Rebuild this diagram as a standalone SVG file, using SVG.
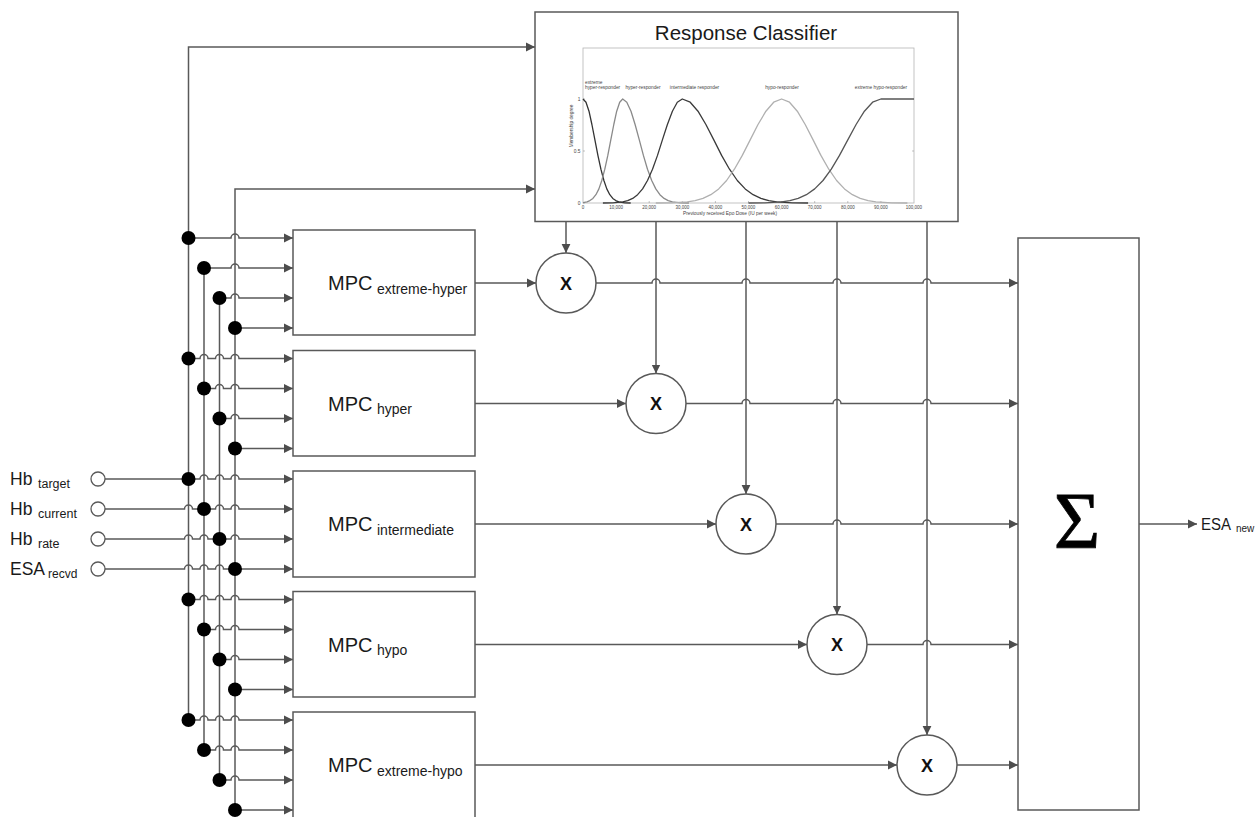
<svg xmlns="http://www.w3.org/2000/svg" width="1259" height="817" viewBox="0 0 1259 817">
<style>
.ln{fill:none;stroke:#595959;stroke-width:1.5}
.la{fill:none;stroke:#595959;stroke-width:1.5;marker-end:url(#arr)}
.box{fill:#fff;stroke:#595959;stroke-width:1.5}
.dot{fill:#000}
.inp{fill:#fff;stroke:#595959;stroke-width:1.3}
.t{font-family:"Liberation Sans",Arial,sans-serif;fill:#1a1a1a}
.mpc{font-size:20px}
.sub{font-size:14px}
.x{font-family:"Liberation Sans",Arial,sans-serif;font-weight:bold;font-size:18px;fill:#111;text-anchor:middle}
.ct{font-family:"Liberation Sans",Arial,sans-serif;fill:#444;font-size:4.8px}
.tk{font-family:"Liberation Sans",Arial,sans-serif;fill:#444;font-size:4.5px;text-anchor:middle}
.cv{fill:none;stroke-width:1.3;stroke-linejoin:round}
</style>
<defs>
<marker id="arr" markerWidth="10" markerHeight="10" refX="9" refY="5" orient="auto" markerUnits="userSpaceOnUse"><path d="M0,0.6 L9,5 L0,9.4 z" fill="#4d4d4d"/></marker>
</defs>
<rect width="1259" height="817" fill="#fff"/>

<g id="connectors">
<path class="la" d="M188.5 720 V47 H535"/>
<path class="la" d="M235 810 V189 H535"/>
<path class="ln" d="M204 268 V750"/>
<path class="ln" d="M219.5 298 V780"/>
<path class="la" d="M188.5 238 H231 a4 4 0 0 1 8 0 H293"/>
<path class="la" d="M204 268 H231 a4 4 0 0 1 8 0 H293"/>
<path class="la" d="M219.5 298 H231 a4 4 0 0 1 8 0 H293"/>
<path class="la" d="M235 328 H293"/>
<path class="la" d="M188.5 358.5 H200 a4 4 0 0 1 8 0 H215.5 a4 4 0 0 1 8 0 H231 a4 4 0 0 1 8 0 H293"/>
<path class="la" d="M204 388.5 H215.5 a4 4 0 0 1 8 0 H231 a4 4 0 0 1 8 0 H293"/>
<path class="la" d="M219.5 418.5 H231 a4 4 0 0 1 8 0 H293"/>
<path class="la" d="M235 448.5 H293"/>
<path class="la" d="M105 479 H200 a4 4 0 0 1 8 0 H215.5 a4 4 0 0 1 8 0 H231 a4 4 0 0 1 8 0 H293"/>
<path class="la" d="M105 509 H184.5 a4 4 0 0 1 8 0 H215.5 a4 4 0 0 1 8 0 H231 a4 4 0 0 1 8 0 H293"/>
<path class="la" d="M105 539 H184.5 a4 4 0 0 1 8 0 H200 a4 4 0 0 1 8 0 H231 a4 4 0 0 1 8 0 H293"/>
<path class="la" d="M105 569 H184.5 a4 4 0 0 1 8 0 H200 a4 4 0 0 1 8 0 H215.5 a4 4 0 0 1 8 0 H293"/>
<path class="la" d="M188.5 599.5 H200 a4 4 0 0 1 8 0 H215.5 a4 4 0 0 1 8 0 H231 a4 4 0 0 1 8 0 H293"/>
<path class="la" d="M204 629.5 H215.5 a4 4 0 0 1 8 0 H231 a4 4 0 0 1 8 0 H293"/>
<path class="la" d="M219.5 659.5 H231 a4 4 0 0 1 8 0 H293"/>
<path class="la" d="M235 689.5 H293"/>
<path class="la" d="M188.5 720 H200 a4 4 0 0 1 8 0 H215.5 a4 4 0 0 1 8 0 H231 a4 4 0 0 1 8 0 H293"/>
<path class="la" d="M204 750 H215.5 a4 4 0 0 1 8 0 H231 a4 4 0 0 1 8 0 H293"/>
<path class="la" d="M219.5 780 H231 a4 4 0 0 1 8 0 H293"/>
<path class="la" d="M235 810 H293"/>
<g class="dot">
<circle cx="188.5" cy="238" r="7"/><circle cx="204" cy="268" r="7"/><circle cx="219.5" cy="298" r="7"/><circle cx="235" cy="328" r="7"/>
<circle cx="188.5" cy="358.5" r="7"/><circle cx="204" cy="388.5" r="7"/><circle cx="219.5" cy="418.5" r="7"/><circle cx="235" cy="448.5" r="7"/>
<circle cx="188.5" cy="479" r="7"/><circle cx="204" cy="509" r="7"/><circle cx="219.5" cy="539" r="7"/><circle cx="235" cy="569" r="7"/>
<circle cx="188.5" cy="599.5" r="7"/><circle cx="204" cy="629.5" r="7"/><circle cx="219.5" cy="659.5" r="7"/><circle cx="235" cy="689.5" r="7"/>
<circle cx="188.5" cy="720" r="7"/><circle cx="204" cy="750" r="7"/><circle cx="219.5" cy="780" r="7"/><circle cx="235" cy="810" r="7"/>
</g>
<path class="la" d="M475 283 H536"/>
<path class="la" d="M475 403.5 H626"/>
<path class="la" d="M475 524 H716"/>
<path class="la" d="M475 644.5 H807"/>
<path class="la" d="M475 765 H897"/>
<path class="la" d="M566 221.5 V253"/>
<path class="la" d="M656 221.5 V373.5"/>
<path class="la" d="M746 221.5 V494"/>
<path class="la" d="M837 221.5 V614.5"/>
<path class="la" d="M927 221.5 V735"/>
<path class="la" d="M596 283 H652 a4 4 0 0 1 8 0 H742 a4 4 0 0 1 8 0 H833 a4 4 0 0 1 8 0 H923 a4 4 0 0 1 8 0 H1018"/>
<path class="la" d="M686 403.5 H742 a4 4 0 0 1 8 0 H833 a4 4 0 0 1 8 0 H923 a4 4 0 0 1 8 0 H1018"/>
<path class="la" d="M776 524 H833 a4 4 0 0 1 8 0 H923 a4 4 0 0 1 8 0 H1018"/>
<path class="la" d="M867 644.5 H923 a4 4 0 0 1 8 0 H1018"/>
<path class="la" d="M957 765 H1018"/>
<path class="la" d="M1139 524 H1197"/>
</g>

<g id="inputs">
<g id="in-hb-target"><circle class="inp" cx="98" cy="479" r="7"/><text class="t" x="10" y="485" font-size="17.5">Hb<tspan x="38" dy="3" font-size="12.5">target</tspan></text></g>
<g id="in-hb-current"><circle class="inp" cx="98" cy="509" r="7"/><text class="t" x="10" y="515" font-size="17.5">Hb<tspan x="38" dy="3" font-size="12.5">current</tspan></text></g>
<g id="in-hb-rate"><circle class="inp" cx="98" cy="539" r="7"/><text class="t" x="10" y="545" font-size="17.5">Hb<tspan x="38" dy="3" font-size="12.5">rate</tspan></text></g>
<g id="in-esa-recvd"><circle class="inp" cx="98" cy="569" r="7"/><text class="t" x="10" y="575" font-size="17.5">ESA<tspan x="48" dy="3" font-size="12">recvd</tspan></text></g>
</g>

<g id="mpc-extreme-hyper"><rect class="box" x="293" y="230" width="182" height="105"/><text class="t mpc" x="328" y="290">MPC<tspan class="sub" x="377" dy="3.5">extreme-hyper</tspan></text></g>
<g id="mpc-hyper"><rect class="box" x="293" y="350.5" width="182" height="105.5"/><text class="t mpc" x="328" y="410.5">MPC<tspan class="sub" x="377" dy="3.5">hyper</tspan></text></g>
<g id="mpc-intermediate"><rect class="box" x="293" y="471" width="182" height="106"/><text class="t mpc" x="328" y="531">MPC<tspan class="sub" x="377" dy="3.5">intermediate</tspan></text></g>
<g id="mpc-hypo"><rect class="box" x="293" y="591.5" width="182" height="105.5"/><text class="t mpc" x="328" y="651.5">MPC<tspan class="sub" x="377" dy="3.5">hypo</tspan></text></g>
<g id="mpc-extreme-hypo"><rect class="box" x="293" y="712" width="182" height="110"/><text class="t mpc" x="328" y="772">MPC<tspan class="sub" x="377" dy="3.5">extreme-hypo</tspan></text></g>

<g id="mult-1"><circle class="box" cx="566" cy="283" r="30"/><text class="x" x="566" y="289.5">X</text></g>
<g id="mult-2"><circle class="box" cx="656" cy="403.5" r="30"/><text class="x" x="656" y="410">X</text></g>
<g id="mult-3"><circle class="box" cx="746" cy="524" r="30"/><text class="x" x="746" y="530.5">X</text></g>
<g id="mult-4"><circle class="box" cx="837" cy="644.5" r="30"/><text class="x" x="837" y="651">X</text></g>
<g id="mult-5"><circle class="box" cx="927" cy="765" r="30"/><text class="x" x="927" y="771.5">X</text></g>

<g id="sum"><rect class="box" x="1018" y="238" width="121" height="572"/><text x="1077" y="548" font-family="'Liberation Serif','Times New Roman',serif" font-size="80" text-anchor="middle" fill="#000" stroke="#000" stroke-width="0.8">Σ</text></g>

<g id="output"><text class="t" x="1201" y="530" font-size="16" textLength="30" lengthAdjust="spacingAndGlyphs">ESA</text><text class="t" x="1236" y="532" font-size="10">new</text></g>

<g id="response-classifier">
<rect class="box" x="535" y="12" width="423" height="209.5"/>
<text class="t" x="746" y="40" font-size="20.5" text-anchor="middle">Response Classifier</text>
<rect x="583" y="48" width="331" height="155" fill="none" stroke="#b5b5b5" stroke-width="0.8"/>
<g stroke="#888" stroke-width="0.5">
<path d="M583 99 h2 M583 151 h2 M583 203 h2 M914 151 h-2 M616.1 203 v-2 M649.2 203 v-2 M682.3 203 v-2 M715.4 203 v-2 M748.5 203 v-2 M781.6 203 v-2 M814.7 203 v-2 M847.8 203 v-2 M880.9 203 v-2"/>
</g>
<text class="ct" x="585" y="83.5">extreme</text>
<text class="ct" x="585" y="89">hyper-responder</text>
<text class="ct" x="643" y="89" text-anchor="middle">hyper-responder</text>
<text class="ct" x="694.5" y="89" text-anchor="middle">intermediate responder</text>
<text class="ct" x="782" y="89" text-anchor="middle">hypo-responder</text>
<text class="ct" x="881" y="89" text-anchor="middle">extreme hypo-responder</text>
<text class="ct" x="580.5" y="100.5" text-anchor="end">1</text>
<text class="ct" x="580.5" y="152.5" text-anchor="end">0.5</text>
<text class="ct" x="580.5" y="204.5" text-anchor="end">0</text>
<text class="ct" transform="translate(572.5 126) rotate(-90)" text-anchor="middle" font-size="5.5">Membership degree</text>
<g class="tk">
<text x="583" y="208.5">0</text><text x="616.1" y="208.5">10,000</text><text x="649.2" y="208.5">20,000</text><text x="682.3" y="208.5">30,000</text><text x="715.4" y="208.5">40,000</text><text x="748.5" y="208.5">50,000</text><text x="781.6" y="208.5">60,000</text><text x="814.7" y="208.5">70,000</text><text x="847.8" y="208.5">80,000</text><text x="880.9" y="208.5">90,000</text><text x="914" y="208.5">100,000</text>
</g>
<text class="ct" x="730" y="214.5" text-anchor="middle" font-size="5.8">Previously received Epo Dose (IU per week)</text>
<polyline class="cv" stroke="#333" points="583,99 586,102.2 589,111.2 591.9,124.5 594.9,139.9 597.9,155.4 600.9,169.2 603.9,180.5 606.8,188.9 609.8,194.7 612.8,198.4 615.8,200.6 618.8,201.8 624.7,202.8 630.7,203"/>
<polyline class="cv" stroke="#8a8a8a" points="583,202.6 587,201.8 589.9,200.6 592.9,198.4 595.9,194.7 598.9,188.9 601.8,180.5 604.8,169.2 607.8,155.4 610.8,139.9 613.8,124.5 616.7,111.2 619.7,102.2 622.7,99 626.8,102.2 631,111.2 635.1,124.5 639.3,139.9 643.4,155.4 647.5,169.2 651.7,180.5 655.8,188.9 659.9,194.7 664.1,198.4 668.2,200.6 672.4,201.8 680.6,202.8 688.9,203"/>
<polyline class="cv" stroke="#3a3a3a" points="602.9,203 612.8,202.8 622.7,201.8 627.7,200.6 632.7,198.4 637.6,194.7 642.6,188.9 647.5,180.5 652.5,169.2 657.5,155.4 662.4,139.9 667.4,124.5 672.4,111.2 677.3,102.2 682.3,99 690.2,102.2 698,111.2 705.9,124.5 713.8,139.9 721.6,155.4 729.5,169.2 737.3,180.5 745.2,188.9 753.1,194.7 760.9,198.4 768.8,200.6 776.7,201.8 792.4,202.8 808.1,203"/>
<polyline class="cv" stroke="#b0b0b0" points="655.8,203 671.5,202.8 687.3,201.8 695.1,200.6 703,198.4 710.8,194.7 718.7,188.9 726.6,180.5 734.4,169.2 742.3,155.4 750.2,139.9 758,124.5 765.9,111.2 773.7,102.2 781.6,99 789.5,102.2 797.3,111.2 805.2,124.5 813.1,139.9 820.9,155.4 828.8,169.2 836.6,180.5 844.5,188.9 852.4,194.7 860.2,198.4 868.1,200.6 875.9,201.8 891.7,202.8 907.4,203"/>
<polyline class="cv" stroke="#555" points="748.5,203 765,202.8 781.6,201.8 789.9,200.6 798.2,198.4 806.4,194.7 814.7,188.9 823,180.5 831.3,169.2 839.5,155.4 847.8,139.9 856.1,124.5 864.4,111.2 872.6,102.2 880.9,99 914,99"/>
</g>
</svg>
